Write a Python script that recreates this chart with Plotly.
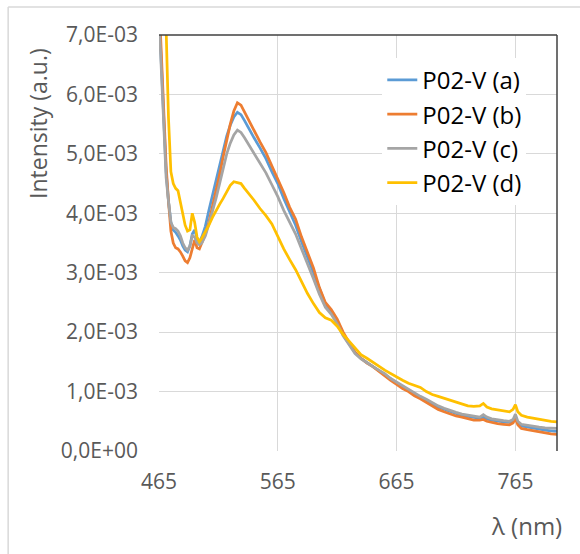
import plotly.graph_objects as go

wavelength = [465, 467, 469, 471, 473, 475, 477, 479, 481, 483, 485, 487, 489, 491, 493, 495, 497, 499,
              501, 504, 507, 510, 513, 516, 519, 522, 525, 528, 531, 534, 537, 540, 545, 550, 555, 560,
              565, 570, 575, 580, 585, 590, 595, 600, 605, 610, 615, 620, 625, 630, 635, 640, 645, 650,
              655, 660, 665, 670, 675, 680, 685, 690, 695, 700, 705, 710, 715, 720, 725, 730, 735, 738,
              741, 745, 750, 755, 760, 763, 765, 767, 770, 775, 780, 785, 790, 795, 800]

# intensities in units of 1e-3 a.u.
p02v_a = [7.4, 6.5, 5.6, 4.7, 4.2, 3.85, 3.72, 3.68, 3.62, 3.55, 3.45, 3.38, 3.35, 3.45, 3.65, 3.72, 3.58, 3.52,
          3.6, 3.78, 4.05, 4.3, 4.55, 4.8, 5.05, 5.3, 5.48, 5.62, 5.70, 5.66, 5.56, 5.46, 5.27, 5.1, 4.92, 4.7,
          4.5, 4.25, 4.02, 3.8, 3.52, 3.26, 3.0, 2.72, 2.48, 2.32, 2.15, 1.95, 1.8, 1.66, 1.56, 1.49, 1.42, 1.35,
          1.29, 1.21, 1.15, 1.08, 1.02, 0.96, 0.9, 0.85, 0.79, 0.74, 0.7, 0.66, 0.63, 0.6, 0.58, 0.56, 0.55, 0.57,
          0.54, 0.52, 0.5, 0.49, 0.48, 0.5, 0.58, 0.47, 0.42, 0.4, 0.38, 0.36, 0.35, 0.34, 0.33]
p02v_b = [7.6, 6.6, 5.8, 4.8, 4.2, 3.7, 3.5, 3.42, 3.40, 3.35, 3.28, 3.2, 3.17, 3.25, 3.4, 3.55, 3.42, 3.40,
          3.5, 3.65, 3.85, 4.1, 4.35, 4.65, 4.95, 5.25, 5.5, 5.72, 5.86, 5.82, 5.7, 5.6, 5.4, 5.2, 5.02, 4.8,
          4.6, 4.35, 4.1, 3.9, 3.6, 3.35, 3.08, 2.75, 2.5, 2.38, 2.22, 2.0, 1.82, 1.66, 1.56, 1.48, 1.42, 1.34,
          1.27, 1.19, 1.12, 1.05, 1.0, 0.93, 0.88, 0.82, 0.75, 0.70, 0.66, 0.62, 0.59, 0.57, 0.54, 0.52, 0.52, 0.53,
          0.50, 0.48, 0.46, 0.45, 0.44, 0.47, 0.55, 0.44, 0.38, 0.36, 0.34, 0.32, 0.30, 0.29, 0.28]
p02v_c = [7.3, 6.4, 5.5, 4.6, 4.2, 3.85, 3.76, 3.74, 3.7, 3.62, 3.5, 3.42, 3.38, 3.45, 3.62, 3.6, 3.5, 3.47,
          3.5, 3.62, 3.82, 4.02, 4.25, 4.5, 4.75, 5.0, 5.18, 5.32, 5.40, 5.36, 5.27, 5.17, 5.0, 4.85, 4.68, 4.48,
          4.28, 4.05, 3.85, 3.65, 3.4, 3.16, 2.9, 2.64, 2.42, 2.3, 2.14, 1.94, 1.78, 1.64, 1.55, 1.48, 1.42, 1.36,
          1.3, 1.22, 1.16, 1.09, 1.03, 0.98, 0.92, 0.87, 0.81, 0.76, 0.72, 0.68, 0.65, 0.62, 0.6, 0.58, 0.57, 0.61,
          0.57, 0.54, 0.52, 0.51, 0.5, 0.53, 0.62, 0.5, 0.45, 0.43, 0.41, 0.4, 0.39, 0.38, 0.38]
p02v_d = [9.5, 8.6, 7.8, 7.1, 5.6, 4.7, 4.5, 4.42, 4.38, 4.2, 4.0, 3.8, 3.7, 3.72, 4.0, 3.85, 3.6, 3.52,
          3.58, 3.68, 3.8, 3.93, 4.05, 4.15, 4.25, 4.36, 4.47, 4.53, 4.52, 4.5, 4.42, 4.35, 4.22, 4.08, 3.96, 3.82,
          3.6, 3.4, 3.22, 3.05, 2.85, 2.65, 2.48, 2.33, 2.24, 2.2, 2.1, 1.96, 1.85, 1.73, 1.62, 1.56, 1.5, 1.43,
          1.36, 1.3, 1.24, 1.19, 1.14, 1.1, 1.07, 1.0, 0.95, 0.92, 0.89, 0.86, 0.82, 0.79, 0.76, 0.75, 0.76, 0.8,
          0.74, 0.71, 0.69, 0.68, 0.66, 0.7, 0.78, 0.66, 0.6, 0.57, 0.55, 0.53, 0.52, 0.5, 0.49]

series_names = ["P02-V (a)", "P02-V (b)", "P02-V (c)", "P02-V (d)"]
series_values = [p02v_a, p02v_b, p02v_c, p02v_d]
colors = ["#5B9BD5", "#ED7D31", "#A5A5A5", "#FFC000"]

x_tick_vals = [465, 565, 665, 765]
y_tick_vals = [0, 0.001, 0.002, 0.003, 0.004, 0.005, 0.006, 0.007]
y_tick_text = ["0,0E+00", "1,0E-03", "2,0E-03", "3,0E-03", "4,0E-03", "5,0E-03", "6,0E-03", "7,0E-03"]

FONT = "Open Sans"
fig = go.Figure()
for name, vals, col in zip(series_names, series_values, colors):
    fig.add_trace(go.Scatter(
        x=wavelength, y=[v * 1e-3 for v in vals], name=name, mode="lines",
        line=dict(color=col, width=2.75), legendgroup=name,
    ))

fig.update_layout(
    width=580, height=554,
    margin=dict(l=159, r=23, t=35, b=103),
    paper_bgcolor="white", plot_bgcolor="white",
    font=dict(family=FONT, color="#595959"),
    showlegend=True,
    legend=dict(
        x=0.561, y=0.945, xanchor="left", yanchor="top",
        bgcolor="white", font=dict(size=24, color="#000000", family=FONT),
        itemwidth=30, tracegroupgap=0, traceorder="grouped",
    ),
    xaxis=dict(
        range=[465, 800], tickvals=x_tick_vals, ticktext=[str(v) for v in x_tick_vals],
        showgrid=True, gridcolor="#D9D9D9", gridwidth=1, zeroline=False,
        showline=False, ticks="", ticklabelstandoff=16, tickfont=dict(size=21, color="#595959"),
    ),
    yaxis=dict(
        range=[0, 0.007], tickvals=y_tick_vals, ticktext=y_tick_text,
        showgrid=True, gridcolor="#D9D9D9", gridwidth=1, zeroline=False,
        showline=False, ticks="", ticklabelstandoff=20, tickfont=dict(size=21, color="#595959"),
    ),
    shapes=[
        dict(type="line", xref="paper", yref="paper", x0=0, x1=1, y0=1, y1=1,
             line=dict(color="#404040", width=1.5)),
        dict(type="line", xref="paper", yref="paper", x0=1, x1=1, y0=0, y1=1,
             line=dict(color="#404040", width=1.5)),
        dict(type="line", xref="paper", yref="paper", x0=-0.379, x1=1.06, y0=1.0673, y1=1.0673,
             line=dict(color="#D9D9D9", width=1.5)),
        dict(type="line", xref="paper", yref="paper", x0=-0.379, x1=-0.379, y0=-0.26, y1=1.0673,
             line=dict(color="#D9D9D9", width=1.5)),
    ],
    annotations=[
        dict(text="Intensity (a.u.)", textangle=-90, xref="paper", yref="paper",
             x=(38 - 159) / 398, y=(451 - 124) / 416, xanchor="center", yanchor="middle",
             showarrow=False, font=dict(size=23, color="#595959", family=FONT)),
        dict(text="λ (nm)", xref="paper", yref="paper",
             x=(526 - 159) / 398, y=(451 - 525) / 416, xanchor="center", yanchor="middle",
             showarrow=False, font=dict(size=24, color="#595959", family=FONT)),
    ],
)

fig.write_html("out.html", config={"displayModeBar": False},
               post_script="document.body.style.margin='0';document.body.style.padding='0';")
